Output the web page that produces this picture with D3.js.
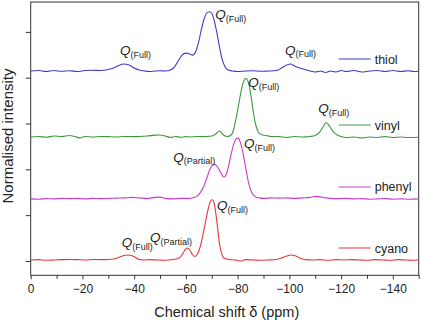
<!DOCTYPE html>
<meta charset="utf-8">
<html>
<head>
<style>
  body { margin: 0; background: #fff; }
  svg { display: block; font-family: "Liberation Sans", Arial, sans-serif; }
  .axis text { font-size: 12px; fill: #222; }
  .axis path, .axis line { stroke: #333; }
</style>
</head>
<script src="https://d3js.org/d3.v7.min.js"></script>
<body>
<div id="vis"></div>
<script>
  // spectra: [ppm, intensity above own baseline]
  var thiol = [[0,0],[-3,0.5],[-6,-0.5],[-9,0.5],[-12,-0.3],[-15,0.3],[-18,-0.5],[-21,0.5],[-24,0.8],[-27,0.5],
    [-30,1.5],[-32,3],[-34,5.5],[-36,7],[-38,6],[-40,3],[-42,1],[-44,0],[-46,-0.5],[-48,0],[-50,0.3],[-52,0],
    [-54,1],[-55.5,4],[-57,10],[-58.5,16],[-60,18],[-61.5,17],[-62.5,16],[-63.5,18],[-65,30],[-66,42],[-67,52],
    [-68,58],[-69,59.5],[-70,58],[-71,50],[-72,38],[-73,24],[-74,12],[-75,5],[-76,1.5],[-78,0],[-80,-0.5],
    [-83,0],[-86,0.3],[-89,-0.3],[-92,0],[-95,0.5],[-97,3],[-99,6],[-100.5,7],[-102,5],[-104,3],[-106,1.5],
    [-108,0],[-110,-1],[-112,0],[-114,-1.5],[-116,0],[-118,-1],[-120,0.5],[-122,-0.5],[-125,0.5],[-128,-1],
    [-131,0],[-134,0.5],[-137,-0.5],[-140,0.5],[-143,-0.5],[-146,0.3],[-148,-0.5],[-150,-0.3]];

  var vinyl = [[0,0],[-3,0.5],[-6,-0.3],[-9,1],[-12,0.5],[-15,1.5],[-17,0.5],[-19,-1],[-21,0.5],[-24,0],
    [-27,0.5],[-30,0.3],[-33,0],[-36,0.5],[-39,0.3],[-42,0.5],[-45,1],[-48,1.8],[-50,2],[-52,1],[-54,-0.5],
    [-56,0.5],[-58,-0.3],[-60,0.3],[-62,0],[-64,0.5],[-66,0.3],[-68,0.5],[-70,1],[-71.5,3],[-73,6],[-74.5,2],
    [-76,0.5],[-77.5,2],[-78.5,8],[-79.5,20],[-80.5,34],[-81.5,48],[-82.5,57],[-83.2,59],[-84,56],[-85,44],
    [-86,26],[-87,12],[-88,5],[-89,2.5],[-91,1.5],[-93,0.5],[-96,0.3],[-99,-0.5],[-102,0.5],[-105,0],
    [-108,0.5],[-110,1.5],[-111.5,4],[-113,10],[-114.2,14.5],[-115.5,11],[-117,5],[-118.5,2],[-120,0.5],
    [-122,-0.5],[-125,0],[-128,-1],[-131,0],[-134,-0.5],[-137,0.3],[-140,-0.5],[-143,0],[-146,-0.5],[-150,-0.3]];

  var phenyl = [[0,0],[-3,-0.3],[-6,0.3],[-9,0],[-12,0.5],[-15,0.3],[-18,0.5],[-21,0],[-24,0.5],[-27,0.3],
    [-30,0.5],[-33,0.8],[-36,1],[-39,1.5],[-42,1],[-45,0.5],[-48,1.5],[-50,1.8],[-52,0.5],[-55,0],[-58,0.5],
    [-61,0.5],[-63,1.5],[-64.5,3],[-65.5,6],[-67,13],[-68.5,24],[-69.5,31],[-70.8,35],[-72,33],[-73.5,26],
    [-74.7,22],[-75.5,24],[-76.5,33],[-77.5,45],[-78.5,55],[-79.5,60.5],[-80.3,61],[-81,57],[-82,47],
    [-83,33],[-84,19],[-85,9],[-86,4],[-87,2],[-88.5,1],[-90,0.5],[-93,1],[-96,0.8],[-99,1],[-102,0.5],
    [-105,1],[-108,1.5],[-110,2.5],[-112,2],[-114,1],[-116,0.5],[-119,0.3],[-122,0.5],[-125,0],[-128,0.3],
    [-131,-0.3],[-134,0],[-137,0.3],[-140,-0.3],[-143,0],[-146,-0.3],[-150,0]];

  var cyano = [[0,0],[-3,0.3],[-6,-0.3],[-9,0],[-12,0.3],[-15,0.5],[-18,0.3],[-21,0],[-24,0.5],[-27,0.3],
    [-30,0.5],[-32,1],[-34,2.5],[-36,4.5],[-37.5,5],[-39,4.5],[-40.5,2.5],[-42,0.5],[-44,0],[-46,0.3],
    [-49,0],[-52,-0.3],[-55,0.5],[-57,1.5],[-58.5,5],[-59.5,9.5],[-60.5,12],[-61.5,10],[-62.5,5.5],
    [-63.5,3.5],[-64.5,6],[-65.5,13],[-66.5,24],[-67.5,37],[-68.5,50],[-69.5,59],[-70.2,60.5],[-71,56],
    [-72,38],[-73,16],[-74,5],[-75,1.5],[-77,0.5],[-79,0],[-81.5,-1],[-83,0.3],[-86,0],[-89,-0.3],[-92,0],
    [-95,0.5],[-97,2],[-99,4],[-100.6,5],[-102,4.5],[-104,2],[-106,0.5],[-109,0],[-112,0.3],[-115,-0.3],
    [-118,0.3],[-121,0],[-124,0.3],[-127,0],[-130,-0.3],[-133,0.3],[-136,0],[-139,-0.3],[-142,0.3],
    [-145,0],[-148,-0.3],[-150,0]];

  var names = ["thiol", "vinyl", "phenyl", "cyano"];
  var offsets = [190.7, 124.5, 62.3, 1];
  var colors = ["#3c3cc8", "#3c9a3c", "#cc3ccc", "#e8343c"];

  var xTicks = [0, -20, -40, -60, -80, -100, -120, -140];
  var xMinorTicks = [-10, -30, -50, -70, -90, -110, -130, -150];
  var yTicks = [0, 46, 92, 138, 184, 230];

  // peak labels: [text, sub, ppm, intensity]
  var labels = [
    ["Q", "(Full)", -34.5, 206.3],
    ["Q", "(Full)", -71.3, 242.5],
    ["Q", "(Full)", -98.3, 206.8],
    ["Q", "(Full)", -84.1, 174.2],
    ["Q", "(Full)", -111.2, 148.1],
    ["Q", "(Partial)", -55.1, 99.4],
    ["Q", "(Full)", -82.5, 113],
    ["Q", "(Full)", -35.2, 14],
    ["Q", "(Partial)", -46.1, 19],
    ["Q", "(Full)", -72, 50.7]
  ];

  var spectra = [thiol, vinyl, phenyl, cyano];

  var W = 421, H = 321;
  var pLeft = 30.7, pRight = 418.7, pTop = 2, pBottom = 275.3;

  var x = d3.scaleLinear().domain([0, -150]).range([pLeft, pRight]);
  var y = d3.scaleLinear().domain([-14.4, 260]).range([pBottom, pTop]);

  var svg = d3.select("#vis").append("svg")
    .attr("width", W)
    .attr("height", H);

  // axes
  svg.append("g")
    .attr("class", "axis")
    .attr("transform", "translate(0," + pBottom + ")")
    .call(d3.axisBottom(x).tickValues(xMinorTicks).tickSize(3.5).tickFormat(""))
    .select(".domain").remove();

  svg.append("g")
    .attr("class", "axis")
    .attr("transform", "translate(0," + pBottom + ")")
    .call(d3.axisBottom(x).tickValues(xTicks).tickSize(4).tickPadding(5).tickFormat(d3.format("d")))
    .call(function(g) { g.select(".domain").remove(); g.selectAll("text").attr("font-size", 12); });

  svg.append("g")
    .attr("class", "axis")
    .attr("transform", "translate(" + pLeft + ",0)")
    .call(d3.axisLeft(y).tickValues(yTicks).tickSize(5).tickFormat(""))
    .select(".domain").remove();

  svg.append("rect")
    .attr("x", pLeft)
    .attr("y", pTop)
    .attr("width", pRight - pLeft)
    .attr("height", pBottom - pTop)
    .style("fill", "none")
    .style("stroke", "#333")
    .style("stroke-width", 1);

  // spectra
  spectra.forEach(function(rows, i) {
    var line = d3.line()
      .curve(d3.curveMonotoneX)
      .x(function(d) { return x(d[0]); })
      .y(function(d) { return y(d[1] + offsets[i]); });

    svg.append("path")
      .datum(rows)
      .attr("d", line)
      .style("fill", "none")
      .style("stroke", colors[i])
      .style("stroke-width", 1.1);
  });

  // legend, next to each trace
  names.forEach(function(n, i) {
    var ly = y(offsets[i] + 12);
    svg.append("line")
      .attr("x1", pRight - 80).attr("x2", pRight - 48)
      .attr("y1", ly).attr("y2", ly)
      .style("stroke", colors[i])
      .style("stroke-width", 1.1);
    svg.append("text")
      .attr("x", pRight - 44)
      .attr("y", ly + 4.5)
      .attr("font-size", 12.5)
      .attr("fill", "#222")
      .text(n);
  });

  // peak labels
  labels.forEach(function(d) {
    var t = svg.append("text")
      .attr("x", x(d[2]))
      .attr("y", y(d[3]))
      .attr("fill", "#222");
    t.append("tspan")
      .attr("font-size", 13.5)
      .attr("font-style", "italic")
      .text(d[0]);
    t.append("tspan")
      .attr("font-size", 9)
      .attr("dy", 2.5)
      .text(d[1]);
  });

  // axis titles
  svg.append("text")
    .attr("x", (pLeft + pRight) / 2 + 2)
    .attr("y", 317)
    .attr("text-anchor", "middle")
    .attr("font-size", 14.5)
    .attr("fill", "#222")
    .text("Chemical shift \u03b4 (ppm)");

  svg.append("text")
    .attr("transform", "rotate(-90)")
    .attr("x", -136)
    .attr("y", 13)
    .attr("text-anchor", "middle")
    .attr("font-size", 15)
    .attr("fill", "#222")
    .text("Normalised intensity");
</script>
</body>
</html>
